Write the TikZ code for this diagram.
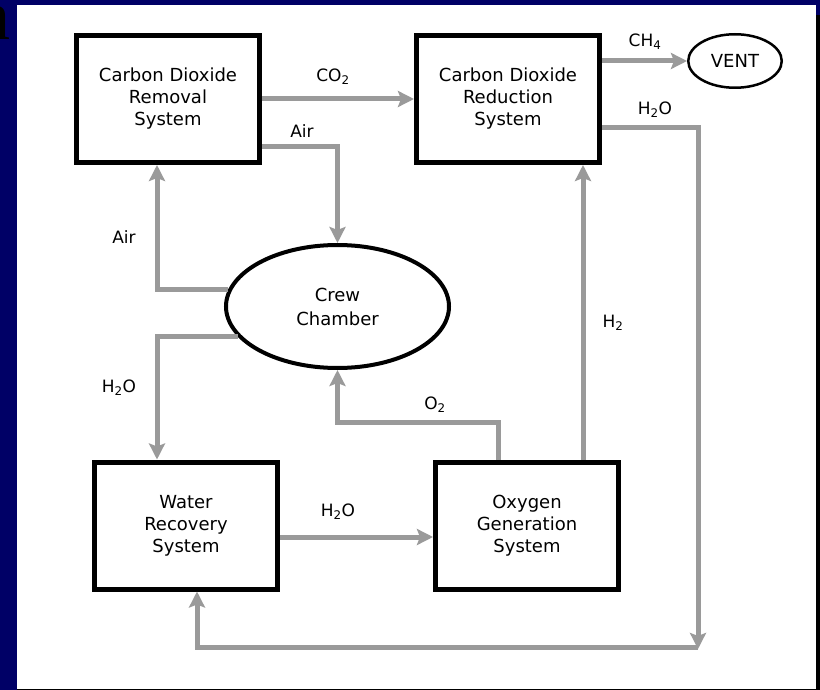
\documentclass[tikz,border=0pt]{standalone}
\usepackage{fontspec}
\setmainfont{DejaVu Sans}
\newfontfamily\slidefont{Liberation Serif}
\usetikzlibrary{arrows.meta, shapes.geometric}
\definecolor{slidenavy}{HTML}{000066}
\definecolor{flowgray}{HTML}{9A9A9A}

\begin{document}
\begin{tikzpicture}[x=1pt, y=-1pt,
    sys/.style={draw, line width=5pt, fill=white, minimum width=183pt,
                minimum height=127pt, align=center, font=\fontsize{18}{22}\selectfont},
    room/.style={ellipse, draw, line width=4pt, fill=white, minimum width=223pt,
                 minimum height=123pt, inner sep=0pt, align=center, font=\fontsize{18}{24}\selectfont},
    outlet/.style={ellipse, draw, line width=2.5pt, fill=white, minimum width=93.5pt,
                   minimum height=53.5pt, inner sep=0pt, font=\fontsize{18}{20}\selectfont},
    flow/.style={-{Stealth[length=16pt, width=16pt, inset=3pt]}, line width=5pt, flowgray},
    lbl/.style={font=\fontsize{17}{20}\selectfont, inner sep=0pt},
]
    % Slide frame
    \useasboundingbox (0,0) rectangle (820,690);
    \fill[slidenavy] (0,0) rectangle (820,690);
    \fill[white] (17,5) rectangle (816,689);
    \fill[black] (816,15) rectangle (820,690);
    \fill[black] (17,688.5) rectangle (820,690);
    \node[anchor=base west, inner sep=0pt, font=\slidefont\fontsize{70}{70}\selectfont] (title) at (-25,40) {n};

    % Systems
    \node[sys] (removal) at (168,99) {Carbon Dioxide\\Removal\\System};
    \node[sys] (reduction) at (508,99) {Carbon Dioxide\\Reduction\\System};
    \node[sys] (water) at (186,525.5) {Water\\Recovery\\System};
    \node[sys] (oxygen) at (527,525.5) {Oxygen\\Generation\\System};
    \node[room] (crew) at (337.5,306.5) {Crew\\Chamber};
    \node[outlet] (vent) at (735,61) {VENT};

    % Bend points
    \coordinate (airtop) at (338,147);
    \coordinate (leftx) at (157,290);
    \coordinate (o2bend) at (498,422);
    \coordinate (h2x) at (583,0);
    \coordinate (loopR) at (698,128);
    \coordinate (loopB) at (698,647);
    \coordinate (loopL) at (197,647);
    \coordinate (midy) at (0,537);

    % Flows
    \draw[flow] (removal.east) -- (reduction.west);
    \draw[flow] (removal.east |- airtop) -| (crew.north);
    \draw[flow] (crew.171) -| (leftx |- removal.south);
    \draw[flow] (crew.197) -| (leftx |- water.north);
    \draw[flow] (o2bend |- oxygen.north) -- (o2bend) -| (crew.south);
    \draw[flow] (h2x |- oxygen.north) -- (h2x |- reduction.south);
    \draw[flow] (reduction.east |- vent.west) -- (vent.west);
    \draw[flow] (reduction.east |- loopR) -- (loopR) -- ([yshift=-2pt]loopB);
    \draw[flow] (loopB) -| (loopL |- water.south);
    \draw[flow] (water.east |- midy) -- (oxygen.west |- midy);

    % Labels
    \node[lbl] (lco2) at (333,77) {CO\textsubscript{2}};
    \node[lbl] (lairtop) at (302,131) {Air};
    \node[lbl] (lairleft) at (124,237) {Air};
    \node[lbl] (lh2oleft) at (119,388) {H\textsubscript{2}O};
    \node[lbl] (lo2) at (435,405) {O\textsubscript{2}};
    \node[lbl] (lh2) at (613,323) {H\textsubscript{2}};
    \node[lbl] (lh2oright) at (655,110) {H\textsubscript{2}O};
    \node[lbl] (lh2omid) at (338,512) {H\textsubscript{2}O};
    \node[lbl] (lch4) at (645,42) {CH\textsubscript{4}};
\end{tikzpicture}
\end{document}
